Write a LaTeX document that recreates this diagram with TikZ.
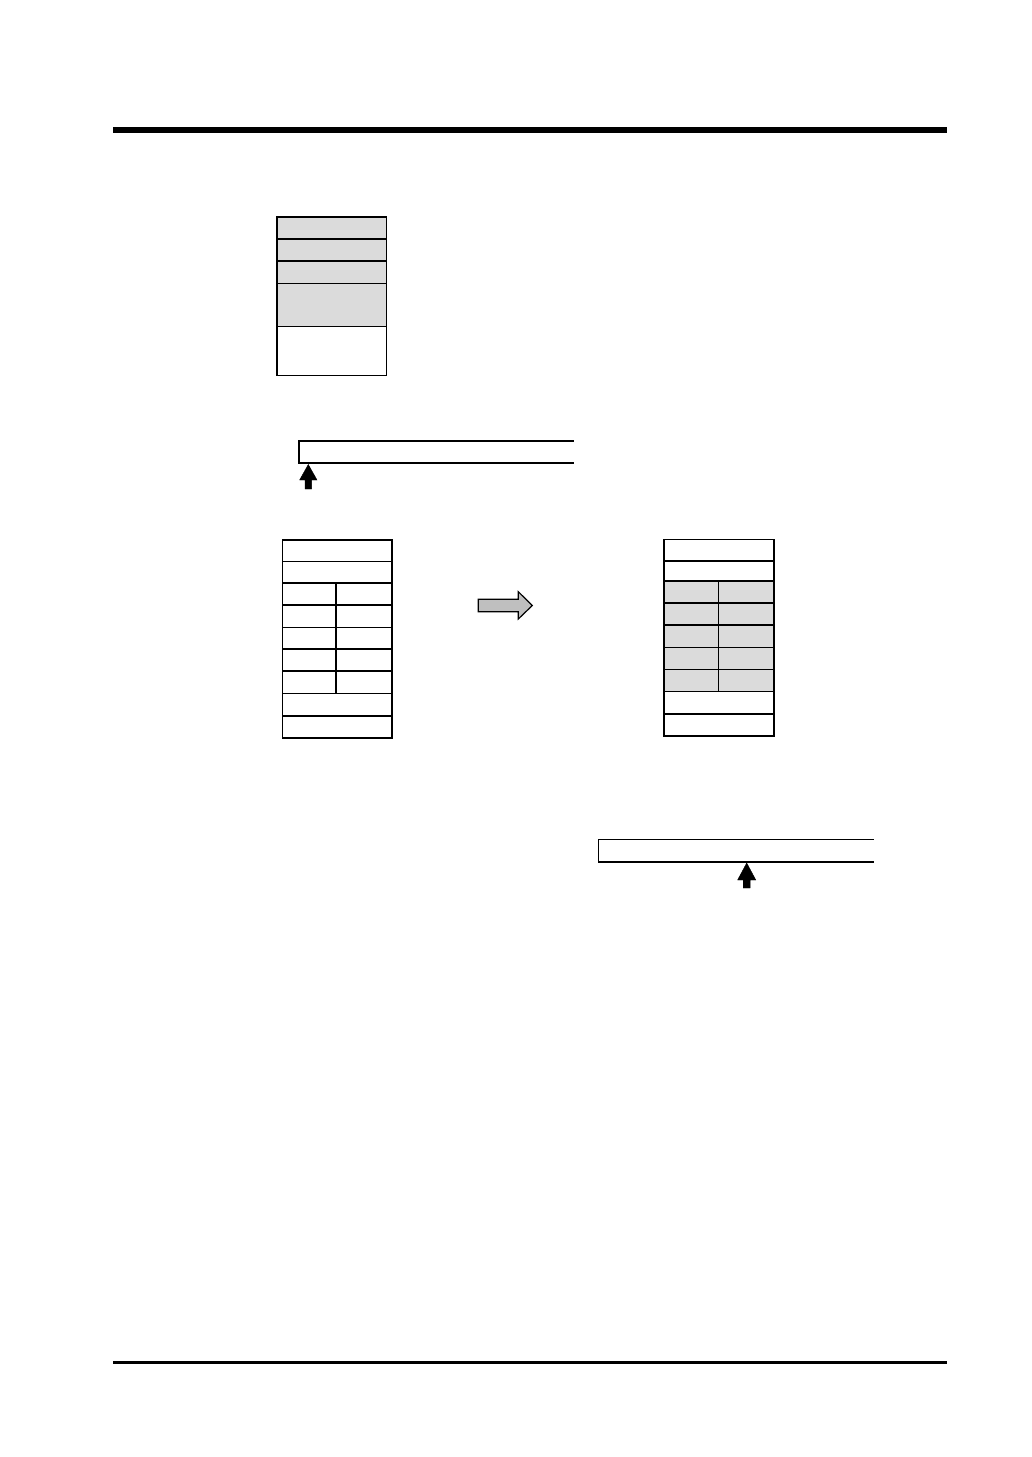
\documentclass[tikz,border=0pt]{standalone}
\begin{document}
\begin{tikzpicture}[x=0.75pt,y=-0.75pt,
  thickln/.style={line width=1.6pt},
  midln/.style={line width=1.2pt},
  thinln/.style={line width=0.8pt},
  cellgray/.style={fill=black!14},
  blockarrow/.style={fill=black!25,draw=black,line width=0.9pt,line join=miter},
  solidarrow/.style={fill=black,draw=black,line width=0.3pt}]
\useasboundingbox (0,0) rectangle (1032,1457);
% page rules
\fill (113,127) rectangle (946.5,133.3);
\fill (113,1360.7) rectangle (946.5,1364.3);

% top-left stack
\coordinate (s0) at (277,217);
\fill[cellgray] (277,217) rectangle (386.5,326.5);
\draw[midln] (277,239) -- (386.5,239);
\draw[midln] (277,261) -- (386.5,261);
\draw[thinln] (277,283.5) -- (386.5,283.5);
\draw[thinln] (277,326.5) -- (386.5,326.5);
\draw[midln] (277,217) rectangle (386.5,375.5);
\node[inner sep=0pt,minimum width=0pt] (stack) at (331.7,296) {};

% bar 1 with arrow
\draw[midln] (573.5,440.7) -- (299,440.7) -- (299,462.7) -- (573.5,462.7);
\node[inner sep=0pt] (bar1) at (436,451.7) {};
\draw[solidarrow] (308.3,464.5) -- (317,480) -- (311.6,480) -- (311.6,489) -- (305,489) -- (305,480) -- (299.6,480) -- cycle;

% left table
\draw[thinln] (282.3,561.7) -- (391.7,561.7);
\foreach \yy in {582.7,605,627.3,649,671} \draw[midln] (282.3,\yy) -- (391.7,\yy);
\draw[thinln] (282.3,693.3) -- (391.7,693.3);
\draw[thinln] (282.3,716) -- (391.7,716);
\draw[midln] (336,582.7) -- (336,693.3);
\draw[midln] (282.3,540) rectangle (391.7,737.7);
\node[inner sep=0pt] (ltab) at (337,639) {};

% transfer arrow
\draw[blockarrow] (478.3,599.3) -- (518.3,599.3) -- (518.3,591.7) -- (532.3,605.5) -- (518.3,619) -- (518.3,611.7) -- (478.3,611.7) -- cycle;

% right table
\fill[cellgray] (664,581) rectangle (774,691.3);
\draw[thinln] (664,561) -- (774,561);
\foreach \yy in {581,602.7,625,647.3,669.3} \draw[midln] (664,\yy) -- (774,\yy);
\draw[thinln] (664,691.3) -- (774,691.3);
\draw[thinln] (664,714) -- (774,714);
\draw[thinln] (718.3,581) -- (718.3,691.3);
\draw[midln] (664,539.3) rectangle (774,735.7);
\node[inner sep=0pt] (rtab) at (719,637.5) {};

% bar 2 with arrow
\draw[midln] (873.5,839.3) -- (598.3,839.3) -- (598.3,861.7) -- (873.5,861.7);
\node[inner sep=0pt] (bar2) at (736,850.5) {};
\draw[solidarrow] (746.7,863) -- (755.8,880) -- (750.2,880) -- (750.2,888) -- (743.2,888) -- (743.2,880) -- (737.6,880) -- cycle;
\end{tikzpicture}
\end{document}
